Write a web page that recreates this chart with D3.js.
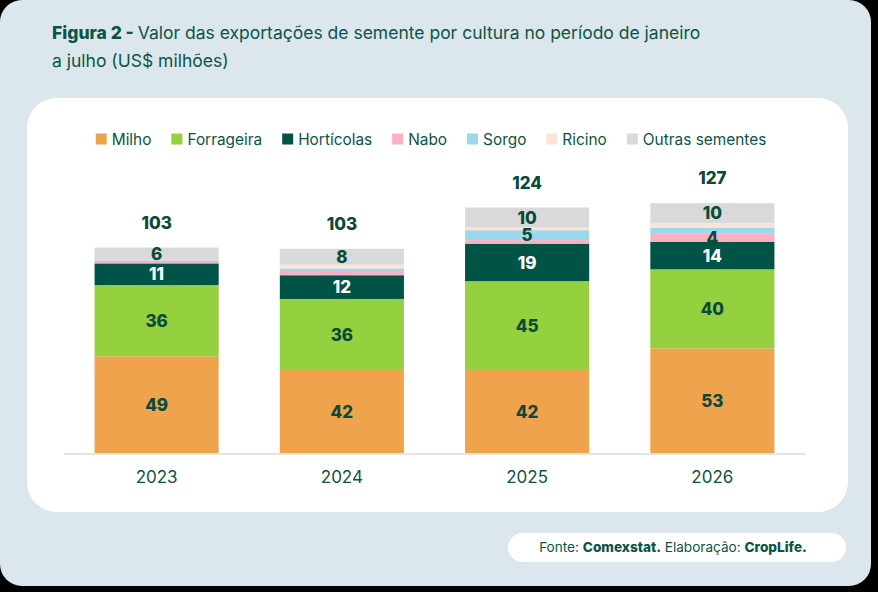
<!DOCTYPE html>
<html>
<head>
<meta charset="utf-8">
<script src="https://cdn.jsdelivr.net/npm/d3@7"></script>
<style>
  html, body { margin: 0; padding: 0; background: #000; }
  svg { display: block; font-family: Inter, "Noto Sans", sans-serif; }
</style>
</head>
<body>
<script>
var width = 878;
var height = 592;

// data (US$ milhões)
var years = ["2023", "2024", "2025", "2026"];
var milho = [49, 42, 42, 53];
var forrageira = [36, 36, 45, 40];
var horticolas = [11, 12, 19, 14];
var nabo = [1.5, 2.2, 1.8, 4];
var sorgo = [0.5, 1.2, 5, 3];
var ricino = [0, 2, 1.5, 2.5];
var outras = [6, 8, 10, 10];
var totals = [103, 103, 124, 127];

var seriesNames = ["Milho", "Forrageira", "Hortícolas", "Nabo", "Sorgo", "Ricino", "Outras sementes"];
var seriesKeys = ["milho", "forrageira", "horticolas", "nabo", "sorgo", "ricino", "outras"];
var seriesColors = ["#f0a34d", "#95d13f", "#005446", "#fbb1c4", "#9cd8eb", "#fde3d7", "#d9d9d9"];

var textColor = "#0b5545";
var darkLabel = "#0a4a3b";

// table for the stack
var table = years.map(function (y, i) {
    return {
        year: y,
        milho: milho[i],
        forrageira: forrageira[i],
        horticolas: horticolas[i],
        nabo: nabo[i],
        sorgo: sorgo[i],
        ricino: ricino[i],
        outras: outras[i],
        total: totals[i]
    };
});

var svg = d3.select("body").append("svg")
    .attr("width", width)
    .attr("height", height);

// outer panel
svg.append("rect")
    .attr("x", 0).attr("y", 0)
    .attr("width", 871).attr("height", 586)
    .attr("rx", 22)
    .attr("fill", "#dbe7ed");

// white card
svg.append("rect")
    .attr("x", 27).attr("y", 98)
    .attr("width", 821).attr("height", 414)
    .attr("rx", 30)
    .attr("fill", "#ffffff");

// title
var title = svg.append("text")
    .attr("x", 52)
    .attr("y", 39)
    .attr("font-size", 17.5)
    .attr("fill", textColor);
title.append("tspan").attr("font-weight", 800).text("Figura 2 - ");
title.append("tspan").text("Valor das exportações de semente por cultura no período de janeiro");
svg.append("text")
    .attr("x", 52)
    .attr("y", 67)
    .attr("font-size", 17.5)
    .attr("fill", textColor)
    .text("a julho (US$ milhões)");

// legend
var legend = svg.append("g");
var lx = 0;
var gap = 20;
seriesNames.forEach(function (name, i) {
    var item = legend.append("g").attr("transform", "translate(" + lx + ",0)");
    item.append("rect")
        .attr("x", 0).attr("y", -5.5)
        .attr("width", 11).attr("height", 11)
        .attr("fill", seriesColors[i]);
    var t = item.append("text")
        .attr("x", 16)
        .attr("y", 5.5)
        .attr("font-size", 15.4)
        .attr("fill", textColor)
        .text(name);
    lx += 16 + t.node().getComputedTextLength() + gap;
});
var legendWidth = lx - gap;
legend.attr("transform", "translate(" + (431 - legendWidth / 2) + ",139)");

// scales
var x = d3.scaleBand()
    .domain(years)
    .range([64, 805])
    .paddingInner(0.33)
    .paddingOuter(0.165);

var y = d3.scaleLinear()
    .domain([0, 130])
    .range([453, 453 - 130 * 1.975]);

var stack = d3.stack().keys(seriesKeys);
var stacked = stack(table);

// bars
var layers = svg.append("g").selectAll("g")
    .data(stacked)
    .enter()
    .append("g")
    .attr("fill", function (d, i) { return seriesColors[i]; });

layers.selectAll("rect")
    .data(function (d) { return d; })
    .enter()
    .append("rect")
    .attr("x", function (d) { return x(d.data.year); })
    .attr("y", function (d) { return y(d[1]); })
    .attr("width", x.bandwidth())
    .attr("height", function (d) { return y(d[0]) - y(d[1]); });

// baseline
svg.append("line")
    .attr("x1", 64).attr("x2", 805)
    .attr("y1", 454).attr("y2", 454)
    .attr("stroke", "#dcdcdc")
    .attr("stroke-width", 1.5);

// segment labels
stacked.forEach(function (layer, li) {
    svg.append("g").selectAll("text")
        .data(layer.filter(function (d) { return d[1] - d[0] >= 4; }))
        .enter()
        .append("text")
        .attr("x", function (d) { return x(d.data.year) + x.bandwidth() / 2; })
        .attr("y", function (d) { return (y(d[0]) + y(d[1])) / 2; })
        .attr("dy", "0.36em")
        .attr("text-anchor", "middle")
        .attr("font-size", 17)
        .attr("font-weight", 800)
        .attr("fill", seriesKeys[li] == "horticolas" ? "#ffffff" : darkLabel)
        .text(function (d) { return Math.round(d[1] - d[0]); });
});

// totals
svg.append("g").selectAll("text")
    .data(stacked[stacked.length - 1])
    .enter()
    .append("text")
    .attr("x", function (d) { return x(d.data.year) + x.bandwidth() / 2; })
    .attr("y", function (d) { return y(d[1]) - 19; })
    .attr("text-anchor", "middle")
    .attr("font-size", 17)
    .attr("font-weight", 800)
    .attr("fill", darkLabel)
    .text(function (d) { return d.data.total; });

// x axis labels
svg.append("g").selectAll("text")
    .data(years)
    .enter()
    .append("text")
    .attr("x", function (d) { return x(d) + x.bandwidth() / 2; })
    .attr("y", 483)
    .attr("text-anchor", "middle")
    .attr("font-size", 17)
    .attr("fill", textColor)
    .text(function (d) { return d; });

// source box
svg.append("rect")
    .attr("x", 508).attr("y", 533)
    .attr("width", 338).attr("height", 29)
    .attr("rx", 14.5)
    .attr("fill", "#ffffff");
var src = svg.append("text")
    .attr("x", 673)
    .attr("y", 552)
    .attr("text-anchor", "middle")
    .attr("font-size", 13.6)
    .attr("fill", textColor);
src.append("tspan").text("Fonte: ");
src.append("tspan").attr("font-weight", 800).text("Comexstat.");
src.append("tspan").text(" Elaboração: ");
src.append("tspan").attr("font-weight", 800).text("CropLife.");
</script>
</body>
</html>
